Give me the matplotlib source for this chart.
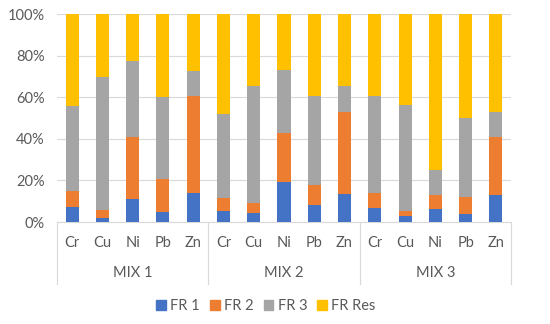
import matplotlib
matplotlib.use("Agg")
import matplotlib.pyplot as plt
from matplotlib.patches import Patch
import numpy as np

groups = ["MIX 1", "MIX 2", "MIX 3"]
metals = ["Cr", "Cu", "Ni", "Pb", "Zn"]
series = ["FR 1", "FR 2", "FR 3", "FR Res"]
colors = ["#4472C4", "#ED7D31", "#A5A5A5", "#FFC000"]

# cumulative tops (percent)
fr1 = [7.2, 1.9, 11.0, 4.7, 14.0,
       5.5, 4.3, 19.2, 8.2, 13.7,
       6.6, 2.7, 6.1, 4.0, 12.9]
fr2_top = [14.8, 6.0, 40.9, 20.5, 60.4,
           11.6, 9.2, 43.0, 17.9, 53.0,
           14.0, 5.2, 13.0, 12.1, 41.1]
fr3_top = [55.6, 69.6, 77.5, 60.1, 72.8,
           51.9, 65.5, 72.9, 60.5, 65.2,
           60.7, 56.2, 24.8, 49.8, 53.0]

fr1 = np.array(fr1)
fr2 = np.array(fr2_top) - fr1
fr3 = np.array(fr3_top) - np.array(fr2_top)
frres = 100 - np.array(fr3_top)
vals = [fr1, fr2, fr3, frres]

plt.rcParams['font.family'] = ['Lato', 'DejaVu Sans']
txt = "#595959"
fs = 10.5

fig = plt.figure(figsize=(5.5, 3.24), dpi=100)
ax = fig.add_axes([57/550, 1-222/324, (511-57)/550, (222-14)/324])

x = np.arange(len(groups) * len(metals))
bottom = np.zeros(len(x))
for v, c, s in zip(vals, colors, series):
    ax.bar(x, v, bottom=bottom, width=0.43, color=c, label=s, zorder=3)
    bottom += v

ax.set_xlim(-0.5, len(x) - 0.5)
ax.set_ylim(0, 100)
ax.set_yticks(np.arange(0, 101, 20))
ax.set_yticklabels([f"{t}%" for t in range(0, 101, 20)], color=txt, fontsize=fs)
ax.tick_params(axis='y', length=0, pad=9)
ax.set_xticks([])
ax.grid(axis='y', color="#D9D9D9", linewidth=0.8, zorder=0)
for sp in ["left", "right", "top"]:
    ax.spines[sp].set_visible(False)
ax.spines["bottom"].set_color("#D9D9D9")

trans = ax.get_xaxis_transform()
n = len(metals)
for i, xi in enumerate(x):
    ax.text(xi, -21/208, metals[i % n], ha='center', va='center',
            color=txt, fontsize=fs, transform=trans)
for g, name in enumerate(groups):
    ax.text(g * n + (n - 1) / 2, -51/208, name, ha='center', va='center',
            color=txt, fontsize=fs, transform=trans)
for b in range(len(groups) + 1):
    ax.plot([b * n - 0.5, b * n - 0.5], [0, -62/208], color="#D9D9D9",
            linewidth=0.8, transform=trans, clip_on=False)

handles = [Patch(color=c, label=s) for c, s in zip(colors, series)]
leg = fig.legend(handles=handles, loc='center', bbox_to_anchor=(266/550, 1-306/324),
                 ncol=4, frameon=False, fontsize=fs, handlelength=0.65,
                 handleheight=0.65, handletextpad=0.3, columnspacing=0.7)
for t in leg.get_texts():
    t.set_color(txt)

fig.savefig("out.png", dpi=100)
